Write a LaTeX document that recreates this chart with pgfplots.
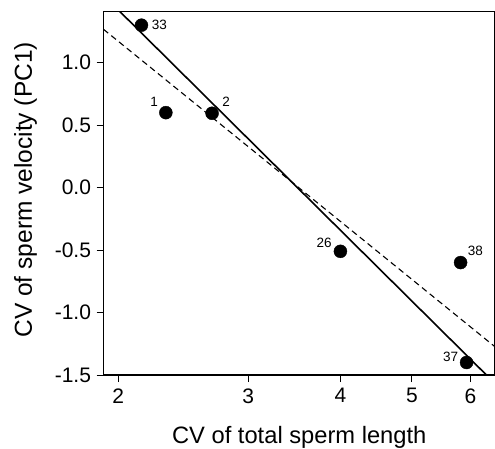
\documentclass[border=0pt]{standalone}
\usepackage{fontspec}
\setmainfont{Liberation Sans}
\usepackage{pgfplots}
\pgfplotsset{compat=1.18}
\usepackage{pgfplotstable}

% species points: x, y, label, label offset (dx, dy in pt)
\pgfplotstableread{
x    y     lab dx    dy
2.15 1.30  33  18    0
2.32 0.60  1   -11.7 11
2.68 0.595 2   14    11.6
4.00 -0.51 26  -16.4 8.3
5.82 -0.60 38  14.7  12
5.93 -1.40 37  -16   6
}\pts

\begin{document}
\begin{tikzpicture}
\begin{axis}[
    scale only axis,
    width=391.5pt, height=363.3pt,
    xmode=log,
    xmin=1.91, xmax=6.48,
    ymin=-1.5, ymax=1.408,
    xtick={2,3,4,5,6},
    xticklabels={2,3,4,5,6},
    ytick={-1.5,-1,-0.5,0,0.5,1},
    yticklabels={-1.5,-1.0,-0.5,0.0,0.5,1.0},
    minor xtick={},
    log ticks with fixed point,
    tick align=outside,
    tick pos=left,
    major tick length=7pt,
    every tick/.style={black, line width=0.9pt},
    axis line style={line width=1.4pt},
    tick label style={font=\fontsize{21}{25}\selectfont},
    yticklabel style={xshift=-2pt},
    xticklabel style={yshift=-3pt},
    xlabel={CV of total sperm length},
    ylabel={CV of sperm velocity (PC1)},
    every axis x label/.style={at={(axis description cs:0.5,0)}, anchor=base, yshift=-68pt, font=\fontsize{23.7}{28}\selectfont},
    every axis y label/.style={at={(axis description cs:-0.199,0.51)}, anchor=center, rotate=90, font=\fontsize{24.5}{29}\selectfont},
    clip=true,
]
% dashed regression line
\addplot[black, dashed, line width=1.1pt, dash pattern=on 6pt off 4pt] coordinates {(1.91,1.267) (6.48,-1.274)};
% solid regression line
\addplot[black, line width=1.6pt] coordinates {(1.91,1.539) (6.48,-1.568)};
% points with labels
\addplot[only marks, mark=*, mark size=6.5pt, black,
    point meta=explicit symbolic,
    visualization depends on={\thisrow{dx}\as\dx},
    visualization depends on={\thisrow{dy}\as\dy},
    nodes near coords,
    nodes near coords style={anchor=center, inner sep=0pt, xshift=\dx pt, yshift=\dy pt, font=\fontsize{13.5}{16}\selectfont, black},
] table[x=x, y=y, meta=lab] {\pts};
\end{axis}
\pgfresetboundingbox
\path ([xshift=-103.5pt, yshift=-73pt]current axis.south west) rectangle ([yshift=11.7pt]current axis.north east);
\end{tikzpicture}
\end{document}
